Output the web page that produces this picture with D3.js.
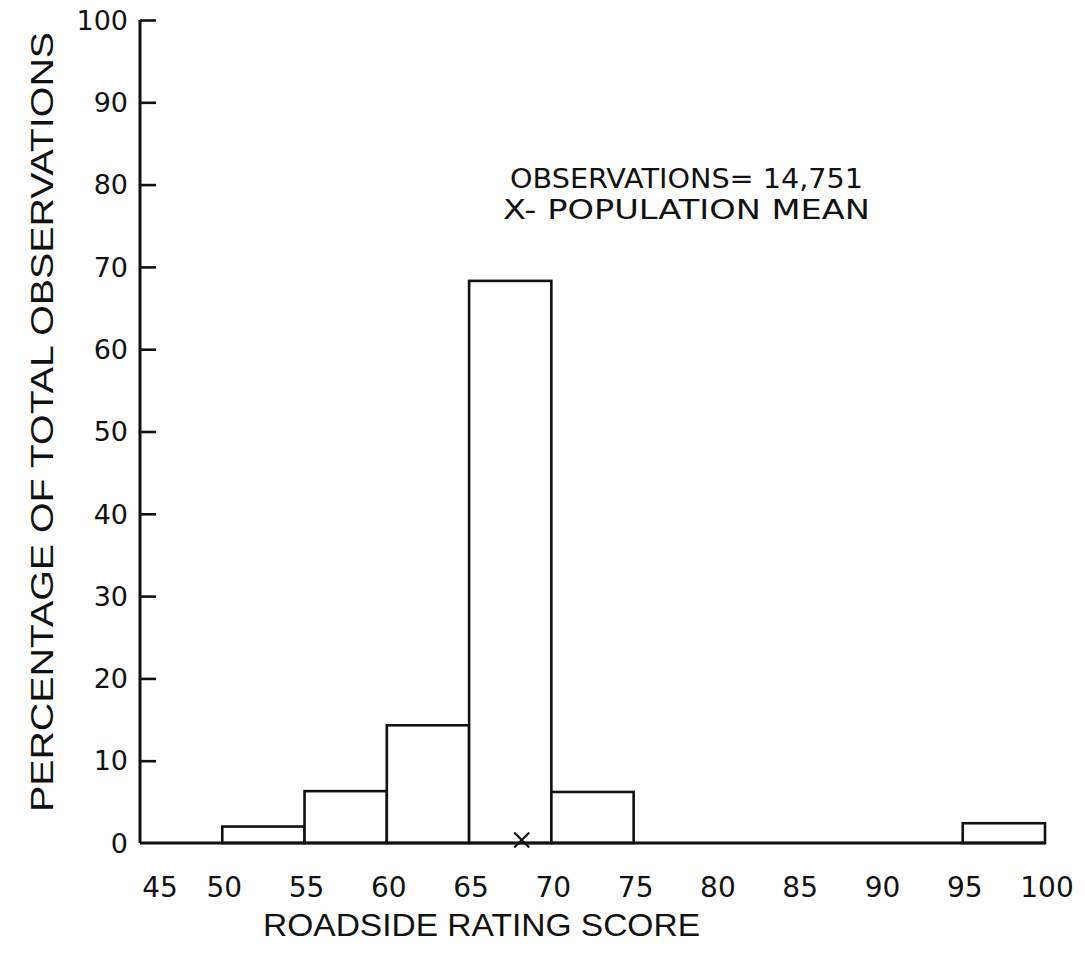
<!DOCTYPE html>
<html><head><meta charset="utf-8">
<script src="https://cdn.jsdelivr.net/npm/d3@7"></script>
<style>body{margin:0;background:#fff}svg{display:block}</style>
</head><body>
<svg id="c" width="1085" height="956"></svg>
<script>
const binStarts = [45, 50, 55, 60, 65, 70, 75, 80, 85, 90, 95];
const binWidth = 5;
const percents = [0, 2.0, 6.3, 14.3, 68.3, 6.2, 0, 0, 0, 0, 2.4];
const xTicks = [45, 50, 55, 60, 65, 70, 75, 80, 85, 90, 95, 100];
const yTicks = [0, 10, 20, 30, 40, 50, 60, 70, 80, 90, 100];
const meanScore = [68.2];
const noteLines = ["OBSERVATIONS= 14,751", "X- POPULATION MEAN"];
const xTitle = "ROADSIDE RATING SCORE";
const yTitle = "PERCENTAGE OF TOTAL OBSERVATIONS";

const svg = d3.select("#c");
const x = d3.scaleLinear().domain([45, 100]).range([140, 1045]);
const y = d3.scaleLinear().domain([0, 100]).range([843, 20]);
const font = "'DejaVu Sans', 'Liberation Sans', sans-serif";
const ink = "#111";

// bars
svg.append("g").selectAll("rect")
  .data(binStarts.map((s, i) => ({s, v: percents[i]})).filter(d => d.v > 0))
  .join("rect")
  .attr("x", d => x(d.s))
  .attr("y", d => y(d.v))
  .attr("width", d => x(d.s + binWidth) - x(d.s))
  .attr("height", d => y(0) - y(d.v))
  .attr("fill", "#fff").attr("stroke", ink).attr("stroke-width", 2.6);

// baseline
svg.append("line").attr("x1", x(45)).attr("x2", x(100))
  .attr("y1", y(0)).attr("y2", y(0)).attr("stroke", ink).attr("stroke-width", 3);

// y axis (ticks inward)
const yAxis = d3.axisRight(y).tickValues(yTicks).tickSize(16).tickFormat("");
const gy = svg.append("g").attr("transform", `translate(${x(45)},0)`).call(yAxis);
gy.select(".domain").attr("stroke", ink).attr("stroke-width", 3).attr("d", `M0,${y(100)}V${y(0)}`);
gy.selectAll(".tick line").attr("stroke", ink).attr("stroke-width", 2.6);
gy.selectAll(".tick").filter(d => d === 0).select("line").remove();

// y tick labels
svg.append("g").selectAll("text").data(yTicks).join("text")
  .attr("x", x(45) - 12).attr("y", d => y(d)).attr("dy", "0.36em")
  .attr("text-anchor", "end").attr("font-family", font).attr("font-size", 27)
  .attr("fill", ink).text(d => d);

// x tick labels
svg.append("g").selectAll("text").data(xTicks).join("text")
  .attr("x", d => x(d) + (d === 45 ? 20 : 2)).attr("y", 897)
  .attr("text-anchor", "middle").attr("font-family", font).attr("font-size", 28)
  .attr("fill", ink).text(d => d);

// mean marker
svg.append("g").selectAll("path").data(meanScore).join("path")
  .attr("transform", d => `translate(${x(d)},${y(0) - 3})`)
  .attr("d", d3.symbol(d3.symbolTimes, 150))
  .attr("fill", "none").attr("stroke", ink).attr("stroke-width", 2.2);

// note
svg.append("g").selectAll("text").data(noteLines).join("text")
  .attr("x", (d, i) => i === 0 ? 510 : 503).attr("y", (d, i) => 188 + i * 31)
  .attr("font-family", font).attr("font-size", 27).attr("fill", ink)
  .attr("textLength", (d, i) => i === 0 ? 353 : 367).attr("lengthAdjust", "spacingAndGlyphs")
  .text(d => d);

// axis titles
svg.append("text").attr("x", 263).attr("y", 936)
  .attr("font-family", "'Liberation Sans Narrow', 'Liberation Sans', sans-serif").attr("font-size", 32)
  .attr("fill", ink).attr("textLength", 437).attr("lengthAdjust", "spacingAndGlyphs").text(xTitle);

svg.append("text").attr("transform", "translate(53,812) rotate(-90)")
  .attr("font-family", "'Liberation Sans Narrow', 'Liberation Sans', sans-serif").attr("font-size", 32)
  .attr("fill", ink).attr("textLength", 780).attr("lengthAdjust", "spacingAndGlyphs").text(yTitle);
</script>
</body></html>
